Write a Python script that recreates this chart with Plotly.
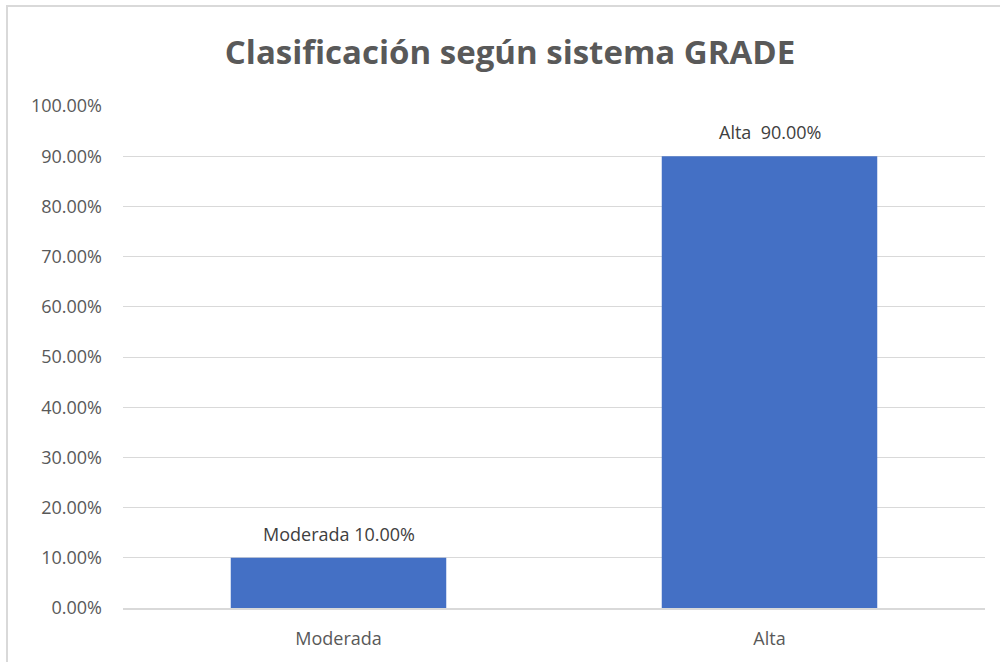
import plotly.graph_objects as go

categories = ["Moderada", "Alta"]
values = [0.10, 0.90]
label_texts = ["Moderada 10.00%", "Alta  90.00%"]
title_text = "Clasificación según sistema GRADE"

FONT = "Open Sans"

fig = go.Figure()
fig.add_trace(go.Bar(
    x=categories, y=values, width=0.5,
    marker=dict(color="#4470C5", line=dict(width=0)),
    hoverinfo="skip",
))

for cat, val, txt in zip(categories, values, label_texts):
    fig.add_annotation(x=cat, y=val, text=txt, showarrow=False,
                       yanchor="bottom", yshift=10,
                       font=dict(family=FONT, size=18, color="#404040"))

fig.update_layout(
    width=1000, height=662,
    margin=dict(l=123, r=15, t=106, b=54),
    paper_bgcolor="white", plot_bgcolor="white",
    title=dict(text=f"<b>{title_text}</b>", x=0.51, xanchor="center",
               y=1 - 52 / 662, yanchor="middle", yref="container",
               font=dict(family=FONT, size=33, color="#595959")),
    showlegend=False,
)
fig.update_yaxes(range=[0, 1.0], dtick=0.1, tickformat=".2%",
                 showgrid=True, gridcolor="#D9D9D9", gridwidth=1,
                 zeroline=False, showline=False, ticks="",
                 tickfont=dict(family=FONT, size=18, color="#595959"),
                 ticklabelstandoff=20)
fig.update_xaxes(showline=True, linecolor="#D9D9D9", linewidth=2, ticks="",
                 tickfont=dict(family=FONT, size=18, color="#595959"),
                 ticklabelstandoff=13)

fig.add_shape(type="rect", xref="paper", yref="paper",
              x0=(7 - 123) / 862, x1=1.2, y0=-0.3, y1=(608 - 6) / 502,
              line=dict(color="#D9D9D9", width=2), fillcolor="rgba(0,0,0,0)",
              layer="below")

fig.write_html("out.html", config={"displayModeBar": False},
               post_script="document.body.style.margin='0';document.body.style.padding='0';")
